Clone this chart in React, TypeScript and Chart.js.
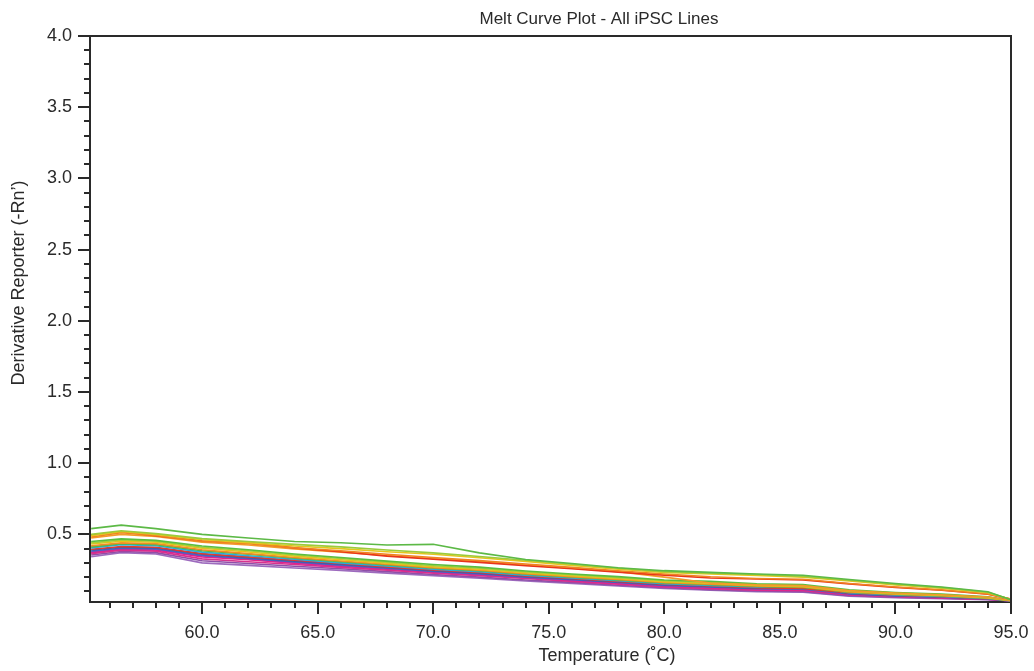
import React, { useEffect, useRef } from 'react';
import { Chart, registerables } from 'chart.js';

Chart.register(...registerables);

const FONT = '"Liberation Sans", Arial, Helvetica, sans-serif';
const INK = '#2a2a2a';

const chartTitle = 'Melt Curve Plot - All iPSC Lines';
const xTitle = 'Temperature (˚C)';
const yTitle = 'Derivative Reporter (-Rn’)';

const temps = [55.2, 56.5, 58, 60, 62, 64, 66, 68, 70, 72, 74, 76, 78, 80, 82, 84, 86, 88, 90, 92, 94, 95];

const xMajorTicks = [60, 65, 70, 75, 80, 85, 90, 95];
const yMajorTicks = [0.5, 1.0, 1.5, 2.0, 2.5, 3.0, 3.5, 4.0];

// upper group
const g1 = [0.54, 0.565, 0.54, 0.5, 0.475, 0.45, 0.441, 0.425, 0.43, 0.37, 0.324, 0.295, 0.265, 0.245, 0.233, 0.222, 0.213, 0.183, 0.155, 0.13, 0.097, 0.04];
const g2 = [0.5, 0.525, 0.505, 0.47, 0.45, 0.43, 0.412, 0.39, 0.37, 0.345, 0.318, 0.29, 0.262, 0.238, 0.228, 0.218, 0.205, 0.178, 0.15, 0.126, 0.094, 0.042];
const y1 = [0.49, 0.52, 0.5, 0.462, 0.442, 0.418, 0.4, 0.378, 0.36, 0.336, 0.31, 0.282, 0.255, 0.232, 0.222, 0.212, 0.2, 0.172, 0.145, 0.122, 0.09, 0.042];
const o1 = [0.482, 0.512, 0.492, 0.45, 0.435, 0.405, 0.385, 0.36, 0.338, 0.316, 0.292, 0.268, 0.244, 0.222, 0.202, 0.19, 0.185, 0.155, 0.13, 0.11, 0.082, 0.045];
const r1 = [0.495, 0.518, 0.49, 0.455, 0.445, 0.405, 0.378, 0.347, 0.325, 0.303, 0.28, 0.258, 0.235, 0.214, 0.194, 0.186, 0.18, 0.152, 0.128, 0.108, 0.08, 0.045];
const o2 = [0.475, 0.5, 0.485, 0.445, 0.425, 0.398, 0.375, 0.352, 0.33, 0.31, 0.285, 0.262, 0.238, 0.2, 0.158, 0.145, 0.14, 0.105, 0.088, 0.076, 0.06, 0.036];

// lower group
const l1 = [0.45, 0.468, 0.458, 0.418, 0.392, 0.362, 0.338, 0.312, 0.288, 0.27, 0.243, 0.222, 0.203, 0.18, 0.17, 0.153, 0.147, 0.11, 0.092, 0.08, 0.062, 0.036];
const l2 = [0.44, 0.46, 0.452, 0.41, 0.385, 0.355, 0.33, 0.305, 0.28, 0.262, 0.236, 0.216, 0.196, 0.174, 0.163, 0.148, 0.14, 0.104, 0.087, 0.076, 0.058, 0.035];
const l3 = [0.432, 0.452, 0.445, 0.402, 0.376, 0.347, 0.322, 0.298, 0.273, 0.255, 0.23, 0.21, 0.19, 0.168, 0.157, 0.142, 0.135, 0.1, 0.083, 0.072, 0.055, 0.035];
const l4 = [0.42, 0.44, 0.435, 0.392, 0.365, 0.338, 0.313, 0.29, 0.265, 0.248, 0.223, 0.203, 0.183, 0.162, 0.15, 0.137, 0.13, 0.096, 0.08, 0.069, 0.053, 0.034];
const l5 = [0.412, 0.435, 0.428, 0.385, 0.36, 0.332, 0.308, 0.285, 0.262, 0.245, 0.22, 0.2, 0.18, 0.158, 0.147, 0.134, 0.128, 0.094, 0.078, 0.067, 0.052, 0.034];
const l6 = [0.405, 0.428, 0.42, 0.375, 0.35, 0.325, 0.3, 0.278, 0.255, 0.238, 0.213, 0.194, 0.174, 0.153, 0.142, 0.13, 0.14, 0.09, 0.075, 0.064, 0.05, 0.034];
const l7 = [0.395, 0.415, 0.41, 0.365, 0.342, 0.318, 0.295, 0.272, 0.25, 0.232, 0.208, 0.19, 0.17, 0.15, 0.138, 0.126, 0.12, 0.088, 0.073, 0.062, 0.049, 0.034];
const l8 = [0.39, 0.41, 0.405, 0.36, 0.336, 0.312, 0.29, 0.268, 0.245, 0.227, 0.204, 0.186, 0.166, 0.146, 0.134, 0.122, 0.132, 0.085, 0.07, 0.06, 0.048, 0.034];
const l9 = [0.382, 0.402, 0.398, 0.352, 0.33, 0.306, 0.284, 0.262, 0.24, 0.222, 0.2, 0.182, 0.162, 0.142, 0.13, 0.118, 0.115, 0.082, 0.068, 0.058, 0.046, 0.034];
const l10 = [0.375, 0.395, 0.39, 0.342, 0.322, 0.298, 0.277, 0.256, 0.234, 0.216, 0.195, 0.176, 0.156, 0.136, 0.124, 0.112, 0.11, 0.078, 0.065, 0.055, 0.045, 0.034];
const l11 = [0.365, 0.388, 0.382, 0.328, 0.308, 0.288, 0.268, 0.248, 0.227, 0.21, 0.19, 0.17, 0.15, 0.13, 0.118, 0.107, 0.105, 0.074, 0.062, 0.053, 0.044, 0.034];
const l12 = [0.355, 0.38, 0.372, 0.315, 0.295, 0.276, 0.258, 0.238, 0.218, 0.2, 0.18, 0.163, 0.143, 0.125, 0.112, 0.102, 0.098, 0.07, 0.059, 0.051, 0.043, 0.034];
const l13 = [0.343, 0.372, 0.362, 0.3, 0.282, 0.264, 0.247, 0.228, 0.21, 0.192, 0.172, 0.156, 0.137, 0.12, 0.107, 0.097, 0.093, 0.066, 0.056, 0.049, 0.042, 0.034];
const l14 = [0.37, 0.398, 0.392, 0.35, 0.325, 0.3, 0.28, 0.258, 0.236, 0.218, 0.197, 0.178, 0.158, 0.138, 0.126, 0.114, 0.118, 0.08, 0.066, 0.056, 0.045, 0.034];

const seriesValues = [g1, g2, y1, o1, r1, o2, l1, l2, l3, l4, l5, l6, l7, l8, l9, l10, l11, l12, l13, l14];
const seriesNames = ['G1', 'G2', 'Y1', 'O1', 'R1', 'O2', 'L1', 'L2', 'L3', 'L4', 'L5', 'L6', 'L7', 'L8', 'L9', 'L10', 'L11', 'L12', 'L13', 'L14'];
const seriesColors = [
  '#5cb946', '#9ccb3b', '#e5c51e', '#f08222', '#e8341c', '#f39a2a',
  '#5bbe3f', '#a6ce39', '#e8c21a', '#f28c28', '#4db848', '#29abe2', '#e8392b',
  '#3b5ba9', '#4a63c8', '#e5208c', '#d6338f', '#8e4fa8', '#9d6bbe', '#5a5fb5',
];

const framePlugin = {
  id: 'frameAndMinor',
  afterDraw(chart: any) {
    const { ctx, chartArea, scales } = chart;
    const xs = scales.x;
    const ys = scales.y;
    ctx.save();
    ctx.strokeStyle = INK;
    ctx.lineWidth = 2;
    ctx.beginPath();
    ctx.moveTo(chartArea.left, chartArea.top);
    ctx.lineTo(chartArea.right, chartArea.top);
    ctx.lineTo(chartArea.right, chartArea.bottom);
    ctx.stroke();
    ctx.beginPath();
    for (let t = 56; t <= 94; t++) {
      if (t % 5 === 0) continue;
      const px = Math.round(xs.getPixelForValue(t));
      ctx.moveTo(px, chartArea.bottom);
      ctx.lineTo(px, chartArea.bottom + 6);
    }
    for (let k = 1; k < 40; k++) {
      if (k % 5 === 0) continue;
      const v = k / 10;
      if (v < ys.min) continue;
      const py = Math.round(ys.getPixelForValue(v));
      ctx.moveTo(chartArea.left - 6, py);
      ctx.lineTo(chartArea.left, py);
    }
    ctx.stroke();
    ctx.fillStyle = INK;
    ctx.font = `17px ${FONT}`;
    ctx.textAlign = 'center';
    ctx.textBaseline = 'middle';
    ctx.fillText(chartTitle, 599, 19);
    ctx.font = `18px ${FONT}`;
    ctx.fillText(xTitle, 607, 656);
    ctx.translate(19, 283);
    ctx.rotate(-Math.PI / 2);
    ctx.fillText(yTitle, 0, 0);
    ctx.restore();
  },
};

export default function App() {
  const ref = useRef<HTMLCanvasElement>(null);
  useEffect(() => {
    document.body.style.margin = '0';
    const chart = new Chart(ref.current as HTMLCanvasElement, {
      type: 'line',
      data: {
        datasets: seriesValues.map((vals, i) => ({
          label: seriesNames[i],
          data: vals.map((v, j) => ({ x: temps[j], y: v })),
          borderColor: seriesColors[i],
          backgroundColor: seriesColors[i],
          borderWidth: 1.6,
          pointRadius: 0,
          tension: 0,
          fill: false,
        })),
      },
      options: {
        animation: false,
        responsive: false,
        maintainAspectRatio: false,
        layout: { padding: { left: 0, right: 23, top: 36, bottom: 0 } },
        plugins: {
          legend: { display: false },
          title: { display: false },
          tooltip: { enabled: false },
        },
        scales: {
          x: {
            type: 'linear',
            min: 55.15,
            max: 95,
            afterBuildTicks: (s: any) => {
              s.ticks = xMajorTicks.map((v) => ({ value: v }));
            },
            afterFit: (s: any) => {
              s.height = 69;
              s.paddingLeft = 0;
              s.paddingRight = 0;
            },
            grid: { drawOnChartArea: false, drawTicks: true, tickLength: 12, color: INK, lineWidth: 2 },
            border: { display: true, color: INK, width: 2 },
            ticks: {
              autoSkip: false,
              maxRotation: 0,
              padding: 8,
              color: INK,
              font: { family: FONT, size: 18 },
              callback: (v: any) => Number(v).toFixed(1),
            },
          },
          y: {
            type: 'linear',
            min: 0.025,
            max: 4.0,
            afterBuildTicks: (s: any) => {
              s.ticks = yMajorTicks.map((v) => ({ value: v }));
            },
            afterFit: (s: any) => {
              s.width = 90;
              s.paddingTop = 0;
              s.paddingBottom = 0;
            },
            grid: { drawOnChartArea: false, drawTicks: true, tickLength: 12, color: INK, lineWidth: 2 },
            border: { display: true, color: INK, width: 2 },
            ticks: {
              autoSkip: false,
              padding: 6,
              color: INK,
              font: { family: FONT, size: 18 },
              callback: (v: any) => Number(v).toFixed(1),
            },
          },
        },
      },
      plugins: [framePlugin],
    });
    return () => chart.destroy();
  }, []);
  return <canvas ref={ref} width={1034} height={671} style={{ display: 'block' }} />;
}
